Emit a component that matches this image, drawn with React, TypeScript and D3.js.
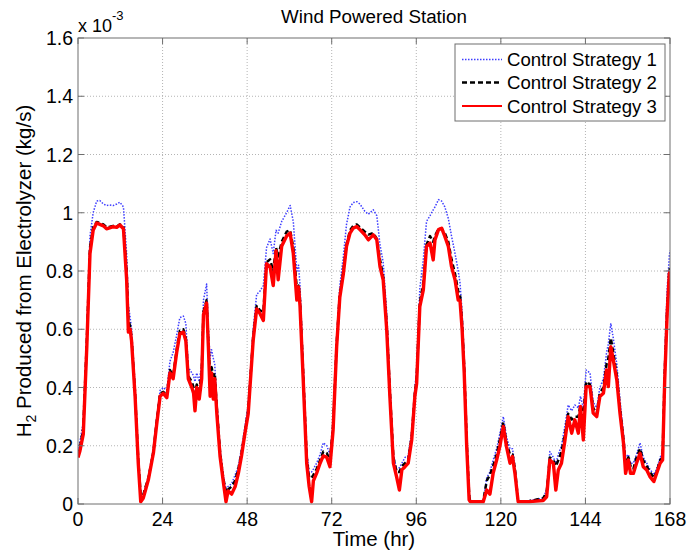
import React from "react";
import * as d3 from "d3";

// Sample times (hours) shared by the three strategies
const hours = [
  0, 0.5, 1.5, 2.5, 3.4, 4.3, 5.3, 6.2, 7.2, 8.1, 9.0, 10.0, 11.0, 11.9, 12.9, 13.8, 14.3, 14.8, 15.2, 16.2,
  17.1, 17.8, 18.5, 19.2, 20.0, 21.4, 22.3, 23.3, 24.2, 25.2, 26.1, 27.0, 28.0, 28.9, 29.9, 30.6, 31.3, 32.3, 32.8, 33.2,
  33.7, 34.4, 35.1, 35.6, 36.5, 37.0, 37.5, 37.9, 38.4, 38.8, 39.4, 40.3, 41.2, 42.0, 42.6, 43.6, 44.6, 45.5, 46.4, 47.4,
  48.3, 48.8, 49.7, 50.7, 51.6, 52.6, 53.5, 54.5, 55.4, 56.2, 56.8, 57.8, 59.2, 60.2, 61.1, 62.1, 62.6, 63.0, 63.9, 64.9,
  65.6, 66.3, 66.8, 67.7, 68.7, 69.6, 70.6, 71.5, 72.4, 73.4, 74.3, 75.3, 76.2, 77.2, 78.1, 79.1, 80.0, 81.4, 82.4, 83.8,
  84.8, 85.7, 86.6, 87.6, 88.5, 89.5, 90.4, 91.2, 91.9, 92.8, 93.7, 94.7, 95.6, 96.1, 97.0, 98.0, 98.9, 99.9, 100.8, 101.3,
  102.3, 103.2, 104.1, 105.1, 106.0, 107.0, 107.9, 108.4, 109.0, 109.6, 110.3, 111.0, 111.3, 115.0, 116.0, 116.9, 117.8, 118.8, 119.7, 120.7,
  121.6, 122.6, 123.3, 124.0, 124.9, 128.1, 132.0, 133.0, 133.9, 134.9, 135.6, 136.3, 137.2, 138.2, 139.1, 140.1, 141.0, 142.0, 142.6, 143.4,
  144.2, 145.3, 146.2, 147.2, 148.1, 149.1, 150.0, 150.5, 151.2, 151.9, 152.9, 153.8, 154.8, 155.4, 156.2, 156.8, 157.6, 158.5, 159.5, 160.4,
  161.4, 162.3, 163.4, 164.2, 165.2, 165.9, 166.5, 167.2, 167.8, 168,
];

// H2 production, x 10^-3 kg/s
const strategy1 = [
  0.19, 0.21, 0.28, 0.58, 0.92, 1.0, 1.04, 1.042, 1.03, 1.025, 1.027, 1.025, 1.03, 1.036, 1.02, 0.86, 0.68, 0.64, 0.6, 0.4,
  0.16, 0.035, 0.035, 0.06, 0.095, 0.19, 0.29, 0.39, 0.4, 0.39, 0.49, 0.52, 0.58, 0.64, 0.645, 0.62, 0.47, 0.45, 0.44, 0.42,
  0.45, 0.42, 0.48, 0.7, 0.755, 0.6, 0.5, 0.53, 0.5, 0.48, 0.35, 0.19, 0.1, 0.05, 0.06, 0.07, 0.1, 0.13, 0.19, 0.27,
  0.34, 0.43, 0.6, 0.72, 0.73, 0.75, 0.88, 0.91, 0.86, 0.94, 0.93, 0.97, 1.0, 1.025, 0.97, 0.8, 0.82, 0.75, 0.48, 0.18,
  0.11, 0.11, 0.12, 0.14, 0.17, 0.21, 0.2, 0.17, 0.28, 0.57, 0.75, 0.85, 0.96, 1.02, 1.035, 1.038, 1.03, 1.005, 0.995, 1.01,
  0.99, 0.89, 0.83, 0.66, 0.41, 0.17, 0.12, 0.125, 0.14, 0.16, 0.165, 0.25, 0.4, 0.46, 0.74, 0.84, 0.97, 0.99, 1.01, 1.02,
  1.045, 1.04, 1.02, 0.98, 0.92, 0.86, 0.8, 0.76, 0.66, 0.5, 0.24, 0.04, 0.008, 0.012, 0.09, 0.11, 0.15, 0.19, 0.24, 0.3,
  0.23, 0.19, 0.19, 0.13, 0.008, 0.012, 0.02, 0.05, 0.18, 0.16, 0.14, 0.17, 0.2, 0.27, 0.34, 0.32, 0.34, 0.33, 0.37, 0.33,
  0.46, 0.45, 0.35, 0.33, 0.4, 0.43, 0.52, 0.55, 0.62, 0.57, 0.48, 0.36, 0.24, 0.16, 0.17, 0.14, 0.14, 0.17, 0.21, 0.16,
  0.14, 0.12, 0.1, 0.12, 0.16, 0.18, 0.5, 0.74, 0.85, 0.87,
];

const strategy2 = [
  0.17, 0.19, 0.26, 0.56, 0.88, 0.95, 0.968, 0.965, 0.96, 0.95, 0.952, 0.955, 0.953, 0.96, 0.95, 0.8, 0.63, 0.61, 0.57, 0.38,
  0.15, 0.03, 0.03, 0.06, 0.09, 0.18, 0.28, 0.38, 0.385, 0.375, 0.46, 0.44, 0.53, 0.595, 0.6, 0.57, 0.44, 0.42, 0.4, 0.38,
  0.41, 0.39, 0.45, 0.66, 0.7, 0.55, 0.44, 0.47, 0.44, 0.45, 0.33, 0.18, 0.09, 0.04, 0.05, 0.06, 0.08, 0.12, 0.175, 0.25,
  0.32, 0.41, 0.57, 0.68, 0.665, 0.66, 0.83, 0.84, 0.8, 0.88, 0.85, 0.9, 0.935, 0.94, 0.88, 0.74, 0.75, 0.7, 0.45, 0.16,
  0.09, 0.09, 0.1, 0.12, 0.15, 0.18, 0.175, 0.15, 0.27, 0.55, 0.72, 0.8, 0.89, 0.94, 0.955, 0.96, 0.95, 0.935, 0.925, 0.93,
  0.91, 0.84, 0.78, 0.62, 0.39, 0.16, 0.11, 0.11, 0.13, 0.14, 0.15, 0.23, 0.38, 0.43, 0.69, 0.76, 0.89, 0.92, 0.9, 0.92,
  0.945, 0.945, 0.93, 0.9, 0.84, 0.79, 0.73, 0.72, 0.62, 0.47, 0.22, 0.03, 0.008, 0.01, 0.08, 0.1, 0.13, 0.17, 0.22, 0.28,
  0.21, 0.17, 0.17, 0.12, 0.008, 0.01, 0.02, 0.04, 0.16, 0.15, 0.13, 0.15, 0.18, 0.24, 0.31, 0.29, 0.3, 0.3, 0.34, 0.3,
  0.42, 0.41, 0.33, 0.31, 0.38, 0.4, 0.48, 0.5, 0.57, 0.52, 0.44, 0.33, 0.22, 0.14, 0.16, 0.13, 0.12, 0.16, 0.19, 0.15,
  0.13, 0.11, 0.09, 0.11, 0.15, 0.16, 0.45, 0.67, 0.8, 0.81,
];

const strategy3 = [
  0.16, 0.18, 0.24, 0.54, 0.86, 0.94, 0.965, 0.96, 0.955, 0.945, 0.948, 0.952, 0.95, 0.958, 0.945, 0.77, 0.59, 0.6, 0.56, 0.37,
  0.14, 0.008, 0.02, 0.05, 0.085, 0.175, 0.27, 0.37, 0.38, 0.365, 0.45, 0.43, 0.52, 0.585, 0.59, 0.56, 0.43, 0.4, 0.38, 0.32,
  0.4, 0.36, 0.43, 0.65, 0.69, 0.54, 0.37, 0.45, 0.36, 0.43, 0.31, 0.165, 0.08, 0.008, 0.045, 0.034, 0.06, 0.105, 0.165, 0.245,
  0.31, 0.4, 0.56, 0.67, 0.655, 0.63, 0.825, 0.815, 0.75, 0.87, 0.77, 0.885, 0.92, 0.93, 0.86, 0.7, 0.745, 0.68, 0.43, 0.14,
  0.06, 0.008, 0.08, 0.105, 0.14, 0.165, 0.16, 0.128, 0.255, 0.54, 0.71, 0.79, 0.885, 0.93, 0.947, 0.953, 0.942, 0.924, 0.907, 0.924,
  0.907, 0.815, 0.77, 0.6, 0.37, 0.14, 0.094, 0.048, 0.117, 0.128, 0.14, 0.22, 0.37, 0.414, 0.678, 0.735, 0.884, 0.896, 0.838, 0.907,
  0.942, 0.947, 0.919, 0.884, 0.815, 0.77, 0.7, 0.7, 0.6, 0.45, 0.2, 0.014, 0.008, 0.008, 0.048, 0.034, 0.105, 0.151, 0.197, 0.266,
  0.197, 0.14, 0.163, 0.105, 0.008, 0.008, 0.012, 0.025, 0.151, 0.14, 0.048, 0.117, 0.14, 0.22, 0.3, 0.243, 0.289, 0.243, 0.335, 0.22,
  0.403, 0.403, 0.312, 0.3, 0.369, 0.38, 0.46, 0.403, 0.54, 0.495, 0.426, 0.312, 0.209, 0.105, 0.151, 0.105, 0.105, 0.14, 0.174, 0.128,
  0.117, 0.094, 0.077, 0.105, 0.14, 0.151, 0.426, 0.655, 0.79, 0.8,
];

const xTicks = [0, 24, 48, 72, 96, 120, 144, 168];
const yTicks = [0, 0.2, 0.4, 0.6, 0.8, 1.0, 1.2, 1.4, 1.6];
const yTickLabels = ["0", "0.2", "0.4", "0.6", "0.8", "1", "1.2", "1.4", "1.6"];
const seriesNames = ["Control Strategy 1", "Control Strategy 2", "Control Strategy 3"];

const W = 688;
const H = 556;
const margin = { left: 78, right: 18, top: 38, bottom: 52 };
const FONT = "'Liberation Sans', Arial, Helvetica, sans-serif";
const AXIS = "#6e6e6e";

const styles = [
  { stroke: "#3d3dff", width: 1.5, dash: "1.5,1.5" },
  { stroke: "#000000", width: 2.5, dash: "5,3" },
  { stroke: "#ff0000", width: 3.4, dash: "" },
];

export default function App() {
  const x = d3.scaleLinear().domain([0, 168]).range([margin.left, W - margin.right]);
  const y = d3.scaleLinear().domain([0, 1.6]).range([H - margin.bottom, margin.top]);
  const [x0, x1] = x.range();
  const [yb, yt] = y.range();

  const line = d3
    .line<number>()
    .x((_, i) => x(hours[i]))
    .y((d) => y(d));

  const series = [strategy1, strategy2, strategy3];
  const tickLen = 6;

  const legend = { x: 455, y: 44, w: 210, h: 77 };
  const rowY = [59.5, 82.5, 106];

  return (
    <svg
      width={W}
      height={H}
      style={{ position: "absolute", left: 0, top: 0, background: "#fff" }}
      fontFamily={FONT}
    >
      <rect x={0} y={0} width={W} height={H} fill="#fff" />
      <defs>
        <clipPath id="plot-clip">
          <rect x={x0} y={yt} width={x1 - x0} height={yb - yt} />
        </clipPath>
      </defs>

      {/* grid */}
      <g stroke="#b4b4b4" strokeWidth={1} strokeDasharray="1,2">
        {xTicks.slice(1, -1).map((t) => (
          <line key={"gx" + t} x1={x(t)} x2={x(t)} y1={yt} y2={yb} />
        ))}
        {yTicks.slice(1, -1).map((t) => (
          <line key={"gy" + t} x1={x0} x2={x1} y1={y(t)} y2={y(t)} />
        ))}
      </g>

      {/* data */}
      <g clipPath="url(#plot-clip)" fill="none" strokeLinejoin="round">
        {series.map((s, i) => (
          <path
            key={i}
            d={line(s) || ""}
            stroke={styles[i].stroke}
            strokeWidth={styles[i].width}
            strokeDasharray={styles[i].dash || undefined}
          />
        ))}
      </g>

      {/* axes box and inward ticks */}
      <rect x={x0} y={yt} width={x1 - x0} height={yb - yt} fill="none" stroke={AXIS} strokeWidth={1} />
      <g stroke={AXIS} strokeWidth={1}>
        {xTicks.map((t) => (
          <g key={"tx" + t}>
            <line x1={x(t)} x2={x(t)} y1={yb} y2={yb - tickLen} />
            <line x1={x(t)} x2={x(t)} y1={yt} y2={yt + tickLen} />
          </g>
        ))}
        {yTicks.map((t) => (
          <g key={"ty" + t}>
            <line x1={x0} x2={x0 + tickLen} y1={y(t)} y2={y(t)} />
            <line x1={x1} x2={x1 - tickLen} y1={y(t)} y2={y(t)} />
          </g>
        ))}
      </g>

      {/* tick labels */}
      <g fontSize={19.5} fill="#000">
        {xTicks.map((t) => (
          <text key={"lx" + t} x={x(t)} y={526} textAnchor="middle">
            {t}
          </text>
        ))}
        {yTicks.map((t, i) => (
          <text key={"ly" + t} x={x0 - 5} y={y(t)} textAnchor="end" dominantBaseline="central">
            {yTickLabels[i]}
          </text>
        ))}
      </g>

      {/* exponent */}
      <text x={x0} y={32} fontSize={18} fill="#000">
        x 10
        <tspan fontSize={13} dy={-12}>
          -3
        </tspan>
      </text>

      {/* title */}
      <text x={(x0 + x1) / 2} y={23} textAnchor="middle" fontSize={18.8} fill="#000">
        Wind Powered Station
      </text>

      {/* axis labels */}
      <text x={(x0 + x1) / 2} y={546} textAnchor="middle" fontSize={20.5} fill="#000">
        Time (hr)
      </text>
      <text
        transform={`translate(31, ${(yt + yb) / 2}) rotate(-90)`}
        textAnchor="middle"
        fontSize={20.5}
        fill="#000"
      >
        H
        <tspan fontSize={14} dy={5}>
          2
        </tspan>
        <tspan dy={-5}> Produced from Electrolyzer (kg/s)</tspan>
      </text>

      {/* legend */}
      <rect x={legend.x} y={legend.y} width={legend.w} height={legend.h} fill="#fff" stroke={AXIS} strokeWidth={1} />
      {seriesNames.map((name, i) => (
        <g key={name}>
          <line
            x1={462}
            x2={502}
            y1={rowY[i]}
            y2={rowY[i]}
            stroke={styles[i].stroke}
            strokeWidth={i === 2 ? 2.2 : styles[i].width}
            strokeDasharray={styles[i].dash || undefined}
          />
          <text x={507} y={rowY[i]} dominantBaseline="central" fontSize={18.6} fill="#000">
            {name}
          </text>
        </g>
      ))}
    </svg>
  );
}
